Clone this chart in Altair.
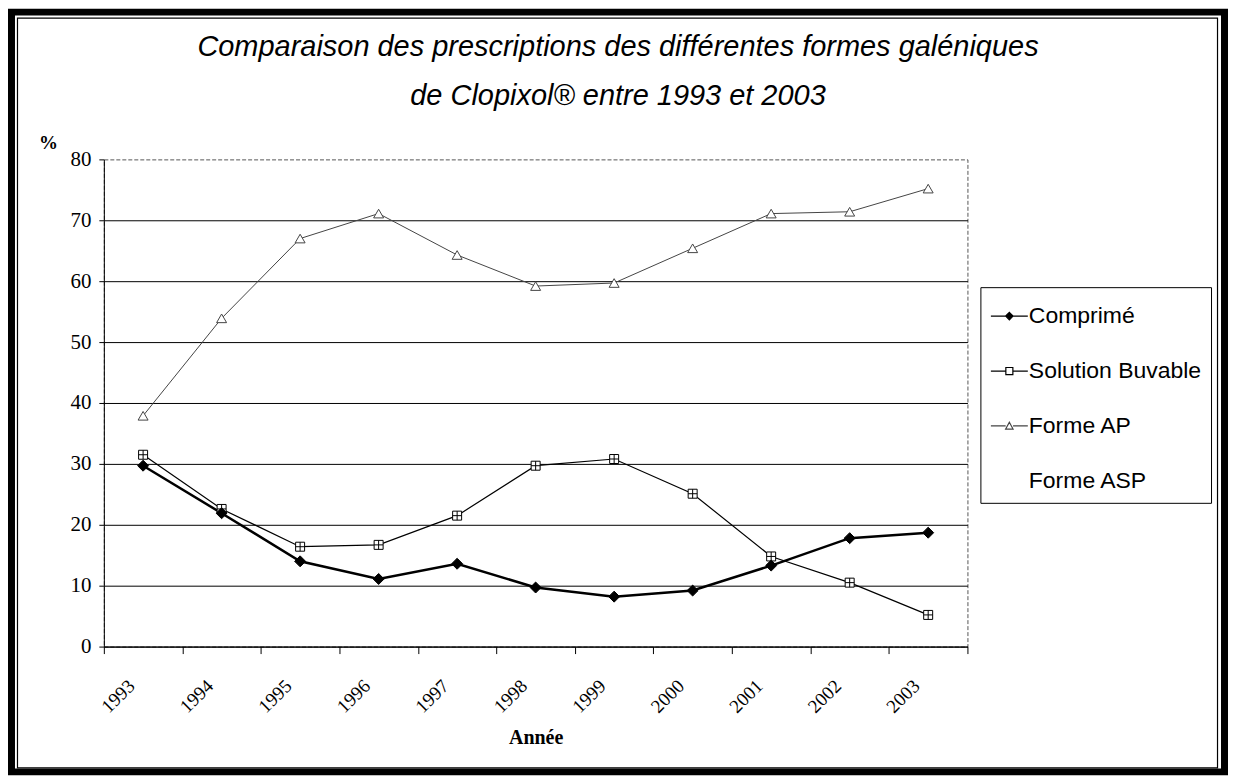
import altair as alt
import pandas as pd

# ---------------- data ----------------
years = ["1993", "1994", "1995", "1996", "1997", "1998", "1999", "2000", "2001", "2002", "2003"]
comprime = [29.7, 21.9, 14.0, 11.1, 13.6, 9.7, 8.2, 9.2, 13.3, 17.8, 18.7]
solution_buvable = [31.5, 22.6, 16.4, 16.7, 21.5, 29.7, 30.8, 25.1, 14.8, 10.5, 5.2]
forme_ap = [37.9, 53.9, 67.0, 71.1, 64.3, 59.2, 59.7, 65.4, 71.1, 71.4, 75.2]
series = ["Comprimé", "Solution Buvable", "Forme AP", "Forme ASP"]
y_ticks = [0, 10, 20, 30, 40, 50, 60, 70, 80]
title_lines = ["Comparaison des prescriptions des différentes formes galéniques",
               "de Clopixol®  entre 1993 et 2003"]

rows = []
for name, vals in [("Comprimé", comprime), ("Solution Buvable", solution_buvable), ("Forme AP", forme_ap)]:
    for yr, v in zip(years, vals):
        rows.append({"annee": yr, "serie": name, "pct": v})
df = pd.DataFrame(rows)
legend_df = pd.DataFrame({"serie": series})
frame_df = pd.DataFrame({"k": [0]})

# ---------------- layout ----------------
W, H = 865, 488
PL, PT = 104, 159          # page position of plot area (for decorative frame only)

SERIF = "Liberation Serif, Times New Roman, serif"
SANS = "Liberation Sans, Arial, sans-serif"

x_enc = alt.X(
    "annee:N", sort=years, bandPosition=0.5,
    scale=alt.Scale(type="band", paddingInner=0, paddingOuter=0),
    axis=alt.Axis(
        title="Année", titleFont=SERIF, titleFontSize=20, titleFontWeight="bold",
        titleColor="black", titleY=91, titleBaseline="middle",
        labelAngle=-45, labelAlign="right", labelBaseline="middle",
        labelFont=SERIF, labelFontSize=19, labelColor="black",
        labelPadding=29, labelOffset=-12,
        tickBand="extent", tickSize=7, tickColor="black", domainColor="black",
        grid=False,
    ),
)
y_enc = alt.Y(
    "pct:Q",
    scale=alt.Scale(domain=[0, 80], nice=False, zero=True),
    axis=alt.Axis(
        values=y_ticks, title="%", titleAngle=0, titleFont=SERIF, titleFontSize=19,
        titleFontWeight="bold", titleColor="black", titleX=-56, titleY=-17,
        titleAlign="center", titleBaseline="middle",
        labelFont=SERIF, labelFontSize=21, labelColor="black", labelPadding=8,
        tickSize=5, tickColor="black", domainColor="black",
        grid=True,
        gridColor={"condition": {"test": "datum.value === 80", "value": "transparent"}, "value": "black"},
        gridWidth=1,
    ),
)

# decorative outer frame (thick) and inner thin line
def rect_layer(x1, y1, x2, y2, sw):
    return alt.Chart(frame_df).mark_rect(fill="white", fillOpacity=0, stroke="black", strokeWidth=sw).encode(
        x=alt.value(x1 - PL), x2=alt.value(x2 - PL), y=alt.value(y1 - PT), y2=alt.value(y2 - PT)
    )

frame_outer = rect_layer(11.5, 11.5, 1226.5, 772.5, 7)
frame_inner = rect_layer(17.5, 17.5, 1219.5, 768.5, 1.2)

styles = {
    "Comprimé": dict(line="black", lw=2.5, shape="diamond", size=121, fill="black", stroke="black", sw=1),
    "Solution Buvable": dict(line="black", lw=1.2, shape="M-1,-1H1V1H-1ZM-1,0H1M0,-1V1", size=81,
                             fill="white", stroke="black", sw=1),
    "Forme AP": dict(line="#444444", lw=1.0, shape="triangle-up", size=100, fill="white", stroke="#444444", sw=1),
}

layers = [frame_outer, frame_inner]
for name in ["Forme AP", "Solution Buvable", "Comprimé"]:
    s = styles[name]
    base = alt.Chart(df).transform_filter(alt.datum.serie == name)
    layers.append(base.mark_line(color=s["line"], strokeWidth=s["lw"]).encode(x=x_enc, y=y_enc))
for name in ["Forme AP", "Solution Buvable", "Comprimé"]:
    s = styles[name]
    base = alt.Chart(df).transform_filter(alt.datum.serie == name)
    layers.append(base.mark_point(shape=s["shape"], size=s["size"], filled=True, fill=s["fill"],
                                  stroke=s["stroke"], strokeWidth=s["sw"], opacity=1).encode(x=x_enc, y=y_enc))

legend_paths = [
    "M-1,0H1M0,-0.2L0.2,0L0,0.2L-0.2,0Z",
    "M-1,0H-0.19M0.19,0H1M-0.19,-0.19H0.19V0.19H-0.19Z",
    "M-1,0H-0.2M0.2,0H1M-0.2,0.17L0,-0.2L0.2,0.17Z",
    "M0,0",
]
leg = alt.Legend(
    title=None, orient="none", legendX=878, legendY=128,
    symbolSize=1369, symbolStrokeWidth=1.2,
    labelFont=SANS, labelFontSize=23, labelColor="black", labelOffset=0, labelLimit=400,
    rowPadding=23, padding=9.5, strokeColor="black", fillColor="white",
)
legend_layer = alt.Chart(legend_df).transform_filter("false").mark_point(filled=True, opacity=1).encode(
    shape=alt.Shape("serie:N", scale=alt.Scale(domain=series, range=legend_paths), legend=leg),
    fill=alt.Fill("serie:N", scale=alt.Scale(domain=series, range=["black", "white", "white", "transparent"]), legend=leg),
    stroke=alt.Stroke("serie:N", scale=alt.Scale(domain=series, range=["black", "black", "#444444", "transparent"]), legend=leg),
)
layers.append(legend_layer)

chart = alt.layer(*layers).properties(
    width=W, height=H, padding=0, background="white",
    title=alt.Title(text=title_lines, font=SANS, fontSize=29, fontStyle="italic", fontWeight="normal",
                    color="black", anchor="middle", frame="bounds", offset=-103, lineHeight=50),
).configure_view(stroke="#555555", strokeDash=[4, 2], strokeWidth=1)

chart.save("out.html", embed_options={"renderer": "svg", "actions": False})
